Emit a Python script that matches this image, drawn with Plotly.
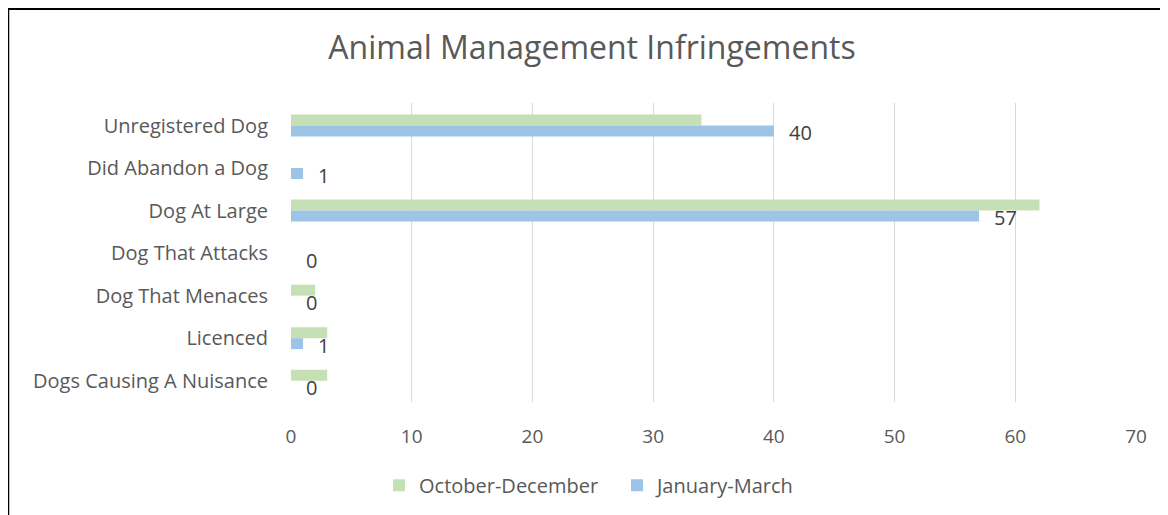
import plotly.graph_objects as go

categories = ["Unregistered Dog", "Did Abandon a Dog", "Dog At Large", "Dog That Attacks",
              "Dog That Menaces", "Licenced", "Dogs Causing A Nuisance"]
oct_dec = [34, 0, 62, 0, 2, 3, 3]
jan_mar = [40, 1, 57, 0, 0, 1, 0]
x_ticks = [0, 10, 20, 30, 40, 50, 60, 70]

GREEN = "#C5E0B4"
BLUE = "#9DC3E6"
TXT = "#595959"
FONT = "Open Sans"

# page has an 8px body margin, so figure is drawn at (8, 8)
OFF = 8
W, H = 1168, 515
L = 291 - OFF
R = W - (1136 - OFF)
T = 102.5 - OFF
B = H - (402.5 - OFF)

fig = go.Figure()
fig.add_trace(go.Bar(y=categories, x=oct_dec, orientation="h", name="October-December",
                     marker=dict(color=GREEN, line=dict(width=0)), legend="legend"))
fig.add_trace(go.Bar(y=categories, x=jan_mar, orientation="h", name="January-March",
                     marker=dict(color=BLUE, line=dict(width=0)), legend="legend2"))

for c, v in zip(categories, jan_mar):
    fig.add_annotation(x=v, y=c, xref="x", yref="y", text=str(v), showarrow=False,
                       xanchor="left", yanchor="middle", xshift=13, yshift=-7,
                       font=dict(family=FONT, size=20, color="#404040"))

pw = W - L - R
ph = H - T - B
def px_to_paper_x(px):
    return (px - OFF - L) / pw
def px_to_paper_y(py):
    return 1 - (py - OFF - T) / ph

fig.add_shape(type="rect", xref="paper", yref="paper",
              x0=px_to_paper_x(8), x1=px_to_paper_x(1190),
              y0=px_to_paper_y(540), y1=px_to_paper_y(8),
              line=dict(color="black", width=2.5), fillcolor="rgba(0,0,0,0)", layer="above")

leg_common = dict(orientation="h", xanchor="left", yanchor="middle",
                  y=px_to_paper_y(486), font=dict(family=FONT, size=20, color=TXT),
                  itemwidth=30, bgcolor="rgba(0,0,0,0)")

fig.update_layout(
    width=W, height=H,
    margin=dict(l=L, r=R, t=T, b=B, autoexpand=False),
    paper_bgcolor="white", plot_bgcolor="white",
    barmode="group", bargap=0.485, bargroupgap=0,
    title=dict(text="Animal Management Infringements", x=(592 - OFF) / W, xanchor="center",
               y=1 - (48 - OFF) / H, yanchor="middle", font=dict(family=FONT, size=32, color=TXT)),
    xaxis=dict(range=[0, 70], tickvals=x_ticks, showgrid=True, gridcolor="#D9D9D9", gridwidth=1,
               zeroline=False, showline=False, ticks="", ticklabelstandoff=21,
               tickfont=dict(family=FONT, size=19, color=TXT)),
    yaxis=dict(autorange="reversed", showgrid=False, zeroline=False, showline=False, ticks="",
               ticklabelstandoff=22, tickfont=dict(family=FONT, size=20, color=TXT)),
    legend=dict(x=px_to_paper_x(399 - 20), **leg_common),
    legend2=dict(x=px_to_paper_x(637 - 20), **leg_common),
    showlegend=True,
)

fig.write_html("out.html")
